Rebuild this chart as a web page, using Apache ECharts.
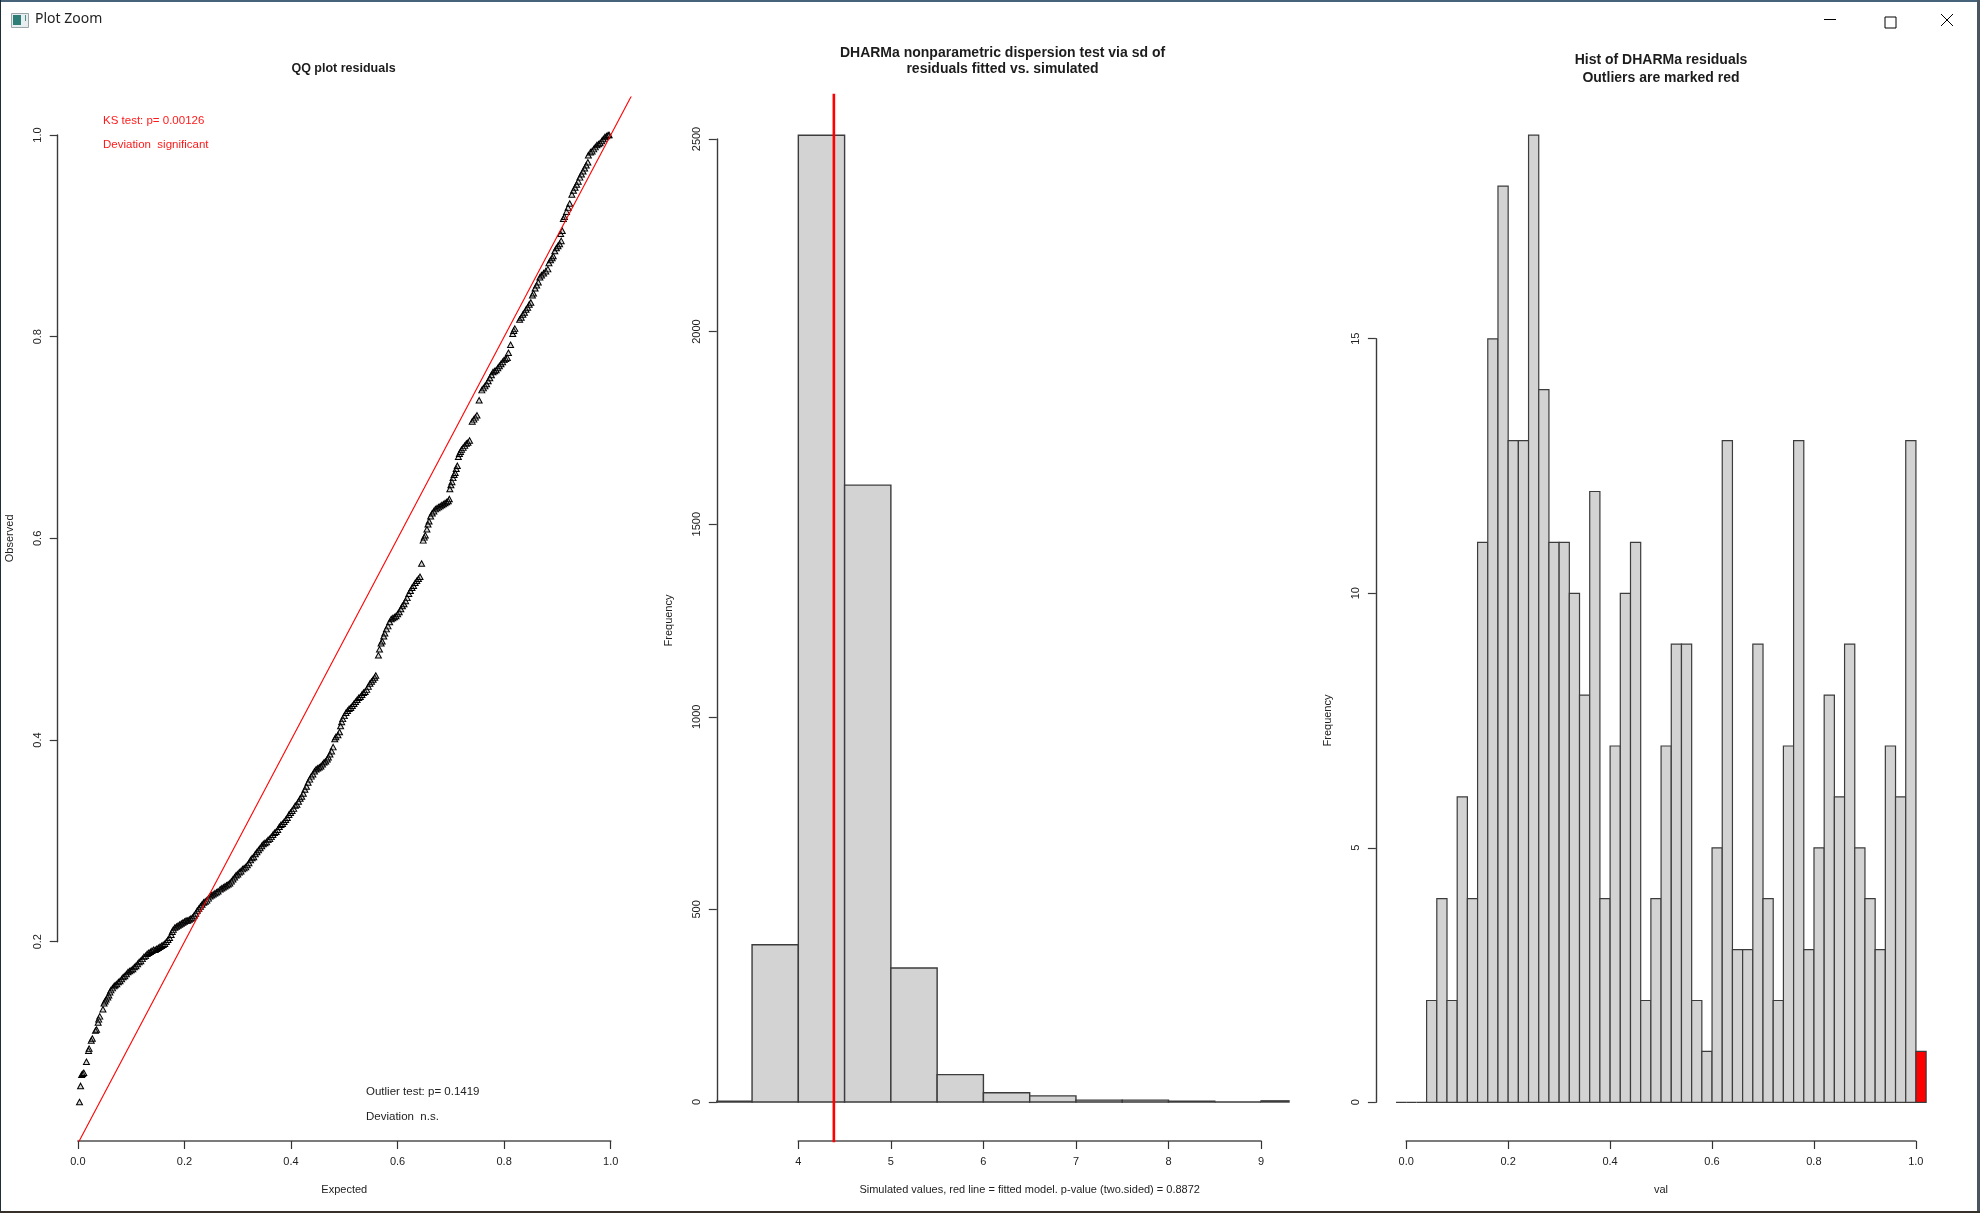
<!DOCTYPE html>
<html>
<head>
<meta charset="utf-8">
<style>html,body{margin:0;padding:0;background:#fff}#c{width:1980px;height:1213px}</style>
<script src="https://cdn.jsdelivr.net/npm/echarts@6/dist/echarts.min.js"></script>
</head>
<body>
<div id="c"></div>
<script>
const windowTitle = 'Plot Zoom';
const qqTitle = 'QQ plot residuals';
const dispTitle = 'DHARMa nonparametric dispersion test via sd of\nresiduals fitted vs. simulated';
const histTitle = 'Hist of DHARMa residuals\nOutliers are marked red';
const qqNotesRed = ['KS test: p= 0.00126', 'Deviation  significant'];
const qqNotesDark = ['Outlier test: p= 0.1419', 'Deviation  n.s.'];
const dispXName = 'Simulated values, red line = fitted model. p-value (two.sided) = 0.8872';

const qqPoints = [
[.003,.041],[.005,.057],[.007,.068],[.009,.069],[.011,.070],[.016,.081],[.020,.092],[.021,.094],[.025,.102],[.027,.104],[.033,.112],[.035,.113],[.038,.120],[.039,.123],[.041,.126],[.047,.133],[.049,.139],[.051,.141],[.053,.143],[.056,.145],[.058,.147],[.060,.150],[.062,.152],[.065,.154],[.068,.156],[.070,.157],[.073,.158],[.076,.160],[.079,.161],[.082,.163],[.085,.165],[.088,.166],[.091,.168],[.094,.170],[.097,.171],[.100,.172],[.103,.173],[.106,.175],[.109,.176],[.112,.178],[.115,.180],[.118,.181],[.121,.183],[.124,.185],[.127,.186],[.130,.188],[.133,.189],[.136,.190],[.139,.191],[.142,.192],[.145,.192],[.148,.193],[.151,.194],[.154,.195],[.157,.196],[.160,.197],[.163,.198],[.166,.200],[.169,.202],[.172,.204],[.175,.207],[.177,.210],[.179,.212],[.182,.214],[.185,.215],[.188,.216],[.191,.217],[.194,.218],[.197,.219],[.200,.220],[.203,.221],[.206,.221],[.209,.222],[.212,.223],[.215,.224],[.218,.226],[.221,.228],[.224,.231],[.227,.233],[.230,.235],[.233,.237],[.236,.239],[.239,.240],[.242,.241],[.245,.243],[.248,.245],[.251,.246],[.254,.247],[.257,.248],[.260,.249],[.263,.250],[.267,.252],[.270,.253],[.273,.254],[.276,.255],[.279,.256],[.282,.257],[.285,.258],[.288,.260],[.291,.262],[.294,.264],[.297,.266],[.300,.267],[.303,.269],[.306,.270],[.309,.272],[.312,.273],[.315,.274],[.318,.276],[.321,.278],[.324,.281],[.327,.283],[.330,.284],[.333,.287],[.336,.289],[.339,.291],[.342,.293],[.345,.295],[.348,.297],[.351,.298],[.354,.299],[.357,.301],[.360,.302],[.363,.304],[.366,.306],[.369,.308],[.372,.309],[.375,.311],[.378,.314],[.381,.316],[.384,.317],[.387,.319],[.390,.321],[.393,.323],[.396,.326],[.399,.328],[.402,.330],[.405,.332],[.408,.335],[.411,.336],[.414,.339],[.417,.342],[.420,.344],[.423,.347],[.426,.351],[.429,.354],[.432,.358],[.435,.361],[.438,.364],[.441,.366],[.444,.369],[.447,.371],[.450,.372],[.453,.373],[.456,.374],[.459,.376],[.462,.378],[.465,.379],[.468,.381],[.470,.383],[.473,.386],[.476,.389],[.479,.393],[.482,.401],[.484,.403],[.488,.405],[.491,.408],[.493,.414],[.495,.418],[.497,.421],[.500,.424],[.503,.427],[.506,.429],[.509,.431],[.512,.432],[.515,.434],[.518,.436],[.521,.438],[.524,.440],[.527,.442],[.530,.443],[.533,.445],[.536,.447],[.539,.448],[.542,.450],[.545,.453],[.548,.456],[.551,.458],[.554,.460],[.557,.462],[.559,.464],
[.564,.484],[.566,.490],[.569,.496],[.571,.498],[.574,.503],[.576,.506],[.579,.510],[.582,.513],[.585,.517],[.588,.520],[.591,.521],[.594,.522],[.597,.523],[.600,.525],[.603,.527],[.606,.530],[.609,.533],[.612,.535],[.615,.538],[.618,.541],[.621,.545],[.624,.548],[.627,.551],[.630,.553],[.633,.556],[.636,.558],[.639,.560],[.642,.562],
[.645,.575],
[.648,.598],[.650,.601],[.652,.603],[.655,.609],[.657,.614],[.659,.617],[.662,.622],[.665,.625],[.668,.627],[.671,.629],[.674,.630],[.677,.631],[.680,.632],[.683,.633],[.686,.634],[.689,.635],[.692,.636],[.695,.637],[.697,.639],
[.698,.649],[.700,.653],[.702,.656],[.704,.660],[.706,.663],[.708,.665],[.710,.669],[.712,.672],
[.714,.681],[.716,.684],[.718,.686],[.720,.688],[.723,.690],[.726,.692],[.729,.694],[.732,.695],[.735,.697],
[.740,.716],[.743,.718],[.746,.720],[.749,.722],
[.753,.737],
[.758,.747],[.761,.749],[.764,.751],[.767,.753],[.770,.756],[.773,.759],[.776,.762],[.779,.765],[.782,.766],[.785,.767],[.788,.769],[.791,.771],[.794,.773],[.797,.775],[.800,.777],[.803,.778],[.806,.779],[.808,.784],
[.812,.792],[.816,.803],[.818,.806],[.820,.808],
[.829,.817],[.832,.819],[.835,.822],[.838,.824],[.841,.827],[.844,.829],[.847,.832],[.850,.834],[.853,.841],[.855,.843],[.858,.848],[.861,.851],[.864,.854],[.867,.859],[.870,.861],[.874,.863],[.878,.865],[.882,.867],[.884,.873],[.887,.876],[.890,.878],[.892,.880],[.895,.885],[.898,.888],[.901,.890],[.904,.892],[.907,.895],[.906,.902],[.909,.905],[.911,.917],[.913,.919],[.917,.924],[.920,.928],[.923,.932],[.927,.941],[.930,.945],[.933,.948],[.936,.951],[.939,.954],[.942,.958],[.945,.961],[.948,.964],[.951,.967],[.954,.970],[.957,.973],[.958,.980],[.962,.983],[.965,.984],[.968,.986],[.971,.988],[.974,.990],[.977,.991],[.980,.992],[.983,.994],[.986,.996],[.989,.998],[.992,.999],[.995,1.0],[.997,1.0]
];
const qqReference = [[-0.05,-0.05],[1.05,1.05]];

const dispBreaks = [3,3.5,4,4.5,5,5.5,6,6.5,7,7.5,8,8.5,9,9.5];
const dispCounts = [2,408,2509,1601,348,71,24,16,5,5,2,0,3];
const fittedValue = 4.384;

const histBreaks = [-0.02,0,0.02,0.04,0.06,0.08,0.10,0.12,0.14,0.16,0.18,0.20,0.22,0.24,0.26,0.28,0.30,0.32,0.34,0.36,0.38,0.40,0.42,0.44,0.46,0.48,0.50,0.52,0.54,0.56,0.58,0.60,0.62,0.64,0.66,0.68,0.70,0.72,0.74,0.76,0.78,0.80,0.82,0.84,0.86,0.88,0.90,0.92,0.94,0.96,0.98,1.00,1.02];
const histCounts = [0,0,0,2,4,2,6,4,11,15,18,13,13,19,14,11,11,10,8,12,4,7,10,11,2,4,7,9,9,2,1,5,13,3,3,9,4,2,7,13,3,5,8,6,9,5,4,3,7,6,13,1];
const histOutlierBins = [51];

const FONT = '"Liberation Sans", Arial, sans-serif';
const AXISC = '#3a3a3a';

function binData(breaks, counts){
  return counts.map((c,i)=>[breaks[i],breaks[i+1],c,i]);
}
function histRender(fillFor, lw){
  return function(params, api){
    const p0 = api.coord([api.value(0), 0]);
    const p1 = api.coord([api.value(1), api.value(2)]);
    const cs = params.coordSys;
    const shape = echarts.graphic.clipRectByRect(
      {x:p0[0], y:p1[1], width:p1[0]-p0[0], height:p0[1]-p1[1]},
      {x:cs.x, y:cs.y, width:cs.width, height:cs.height});
    if(!shape) return null;
    return {type:'rect', shape, style:{fill:fillFor(api.value(3)), stroke:'#3c3c3c', lineWidth:lw}};
  };
}

const grids=[], xAxes=[], yAxes=[];
function addGrid(g){ grids.push(g); return grids.length-1; }
function plotGrid(l,r,t,b,xr,yr){
  const idx=addGrid({left:l,top:t,width:r-l,height:b-t,containLabel:false,show:false});
  xAxes.push({gridIndex:idx,type:'value',show:false,min:xr[0],max:xr[1],splitLine:{show:false}});
  yAxes.push({gridIndex:idx,type:'value',show:false,min:yr[0],max:yr[1],splitLine:{show:false}});
  return idx;
}
function xAxisGrid(l,w,yAt,lo,hi,step,name,fmt){
  const idx=addGrid({left:l,top:yAt-60,width:w,height:60,containLabel:false,show:false});
  xAxes.push({gridIndex:idx,type:'value',position:'bottom',min:lo,max:hi,interval:step,
    name:name,nameLocation:'middle',nameGap:43,
    nameTextStyle:{fontFamily:FONT,fontSize:11,color:'#222'},
    axisLine:{show:true,lineStyle:{color:'#505050',width:1.6}},
    axisTick:{show:true,length:8,lineStyle:{color:'#333',width:1.2}},
    axisLabel:{show:true,margin:15,fontFamily:FONT,fontSize:11,color:'#222',formatter:fmt,hideOverlap:false,showMinLabel:true,showMaxLabel:true},
    splitLine:{show:false}});
  yAxes.push({gridIndex:idx,type:'value',show:false,min:0,max:1,splitLine:{show:false}});
  return idx;
}
function yAxisGrid(xAt,top,h,lo,hi,step,name,fmt){
  const idx=addGrid({left:xAt,top:top,width:60,height:h,containLabel:false,show:false});
  xAxes.push({gridIndex:idx,type:'value',show:false,min:0,max:1,splitLine:{show:false}});
  yAxes.push({gridIndex:idx,type:'value',position:'left',min:lo,max:hi,interval:step,
    name:name,nameLocation:'middle',nameGap:42,nameRotate:90,
    nameTextStyle:{fontFamily:FONT,fontSize:11,color:'#222'},
    axisLine:{show:true,lineStyle:{color:AXISC,width:1.4}},
    axisTick:{show:true,length:8,lineStyle:{color:AXISC,width:1.2}},
    axisLabel:{show:true,rotate:90,margin:14,fontFamily:FONT,fontSize:11,color:'#222',formatter:fmt,hideOverlap:false,showMinLabel:true,showMaxLabel:true},
    splitLine:{show:false}});
  return idx;
}
const f1 = v=>v.toFixed(1);
const f0 = v=>String(v);

// Panel 1
const g1 = plotGrid(56.6,631,97,1141,[-0.04,1.038],[0.0024,1.0377]);
xAxisGrid(77.9,532.8,1141,0,1,0.2,'Expected',f1);
yAxisGrid(57.7,135,806.7,0.2,1,0.2,'Observed',f1);
// Panel 2
const g2 = plotGrid(716.8,1289,95,1141,[3.119,9.302],[-101.2,2613.6]);
xAxisGrid(798.3,462.75,1141,4,9,1,dispXName,f0);
yAxisGrid(716.8,139,963,0,2500,500,'Frequency',f0);
// Panel 3
const g3 = plotGrid(1375.9,1946,95,1141,[-0.0595,1.059],[-0.76,19.79]);
xAxisGrid(1406.2,509.6,1141,0,1,0.2,'val',f1);
yAxisGrid(1375.9,338.7,763.6,0,15,5,'Frequency',f0);

const series=[
  {type:'scatter',name:'QQ',xAxisIndex:g1,yAxisIndex:g1,data:qqPoints,symbol:'triangle',symbolSize:[6,5.5],
   itemStyle:{color:'rgba(90,90,90,0.25)',borderColor:'#000',borderWidth:1,opacity:1},silent:true,z:3},
  {type:'line',name:'ref',xAxisIndex:g1,yAxisIndex:g1,data:qqReference,showSymbol:false,symbol:'none',clip:true,
   lineStyle:{color:'#ff0000',width:1.1},silent:true,z:4},
  {type:'custom',name:'disp',xAxisIndex:g2,yAxisIndex:g2,data:binData(dispBreaks,dispCounts),
   renderItem:histRender(()=>'#d3d3d3',1.4),encode:{x:[0,1],y:2},silent:true,z:2},
  {type:'line',name:'fitted',xAxisIndex:g2,yAxisIndex:g2,data:[[fittedValue,-200],[fittedValue,3000]],showSymbol:false,symbol:'none',clip:true,
   lineStyle:{color:'#ff0000',width:2.6},silent:true,z:4},
  {type:'custom',name:'hist',xAxisIndex:g3,yAxisIndex:g3,data:binData(histBreaks,histCounts),
   renderItem:histRender(i=>histOutlierBins.includes(i)?'#ff0000':'#d3d3d3',1.2),encode:{x:[0,1],y:2},silent:true,z:2}
];

function noteText(x,y,t,color){
  return {type:'text',left:x,top:y-7,silent:true,style:{text:t,fontFamily:FONT,fontSize:11.5,fill:color}};
}
const chrome=[
  {type:'rect',left:0,top:0,silent:true,shape:{width:1980,height:2},style:{fill:'#47637a'}},
  {type:'rect',left:0,top:0,silent:true,shape:{width:1,height:1213},style:{fill:'#1f2f3a'}},
  {type:'rect',left:1977,top:0,silent:true,shape:{width:3,height:1213},style:{fill:'#4a5560'}},
  {type:'rect',left:0,top:1211,silent:true,shape:{width:1980,height:2},style:{fill:'#35302a'}},
  {type:'rect',left:11,top:13,silent:true,shape:{width:17,height:14},style:{fill:'#e8edf0',stroke:'#9aa4aa',lineWidth:1}},
  {type:'rect',left:13,top:15,silent:true,shape:{width:8,height:10},style:{fill:'#2f7d78'}},
  {type:'rect',left:25,top:15,silent:true,shape:{width:1,height:6},style:{fill:'#4f8f8a'}},
  {type:'text',left:35,top:12,silent:true,style:{text:windowTitle,fontFamily:'"Noto Sans", sans-serif',fontSize:14,fill:'#222'}},
  {type:'line',silent:true,shape:{x1:1824,y1:19.5,x2:1836,y2:19.5},style:{stroke:'#000',lineWidth:1}},
  {type:'rect',left:1882.5,top:14.5,silent:true,shape:{width:11,height:11},style:{fill:'none',stroke:'#000',lineWidth:1}},
  {type:'line',silent:true,shape:{x1:1941,y1:14,x2:1953,y2:26},style:{stroke:'#000',lineWidth:1}},
  {type:'line',silent:true,shape:{x1:1953,y1:14,x2:1941,y2:26},style:{stroke:'#000',lineWidth:1}}
];
const notes=[
  noteText(103,122,qqNotesRed[0],'#ff1a1a'),
  noteText(103,146,qqNotesRed[1],'#ff1a1a'),
  noteText(366,1093,qqNotesDark[0],'#222'),
  noteText(366,1118,qqNotesDark[1],'#222')
];
function titleOf(text,cx,top,size,lh){
  return {text:text,left:cx,top:top,textAlign:'center',padding:0,
    textStyle:{fontFamily:FONT,fontWeight:'bold',fontSize:size,lineHeight:lh,color:'#1c1c1c'}};
}
const option={
  animation:false,
  backgroundColor:'#ffffff',
  title:[
    titleOf(qqTitle,343.5,61,12.5,16),
    titleOf(dispTitle,1002.5,44.5,14,16.5),
    titleOf(histTitle,1661,51,14,18)
  ],
  grid:grids,xAxis:xAxes,yAxis:yAxes,series:series,
  graphic:chrome.concat(notes)
};
echarts.init(document.getElementById('c'),null,{renderer:'canvas'}).setOption(option);
</script>
</body>
</html>
